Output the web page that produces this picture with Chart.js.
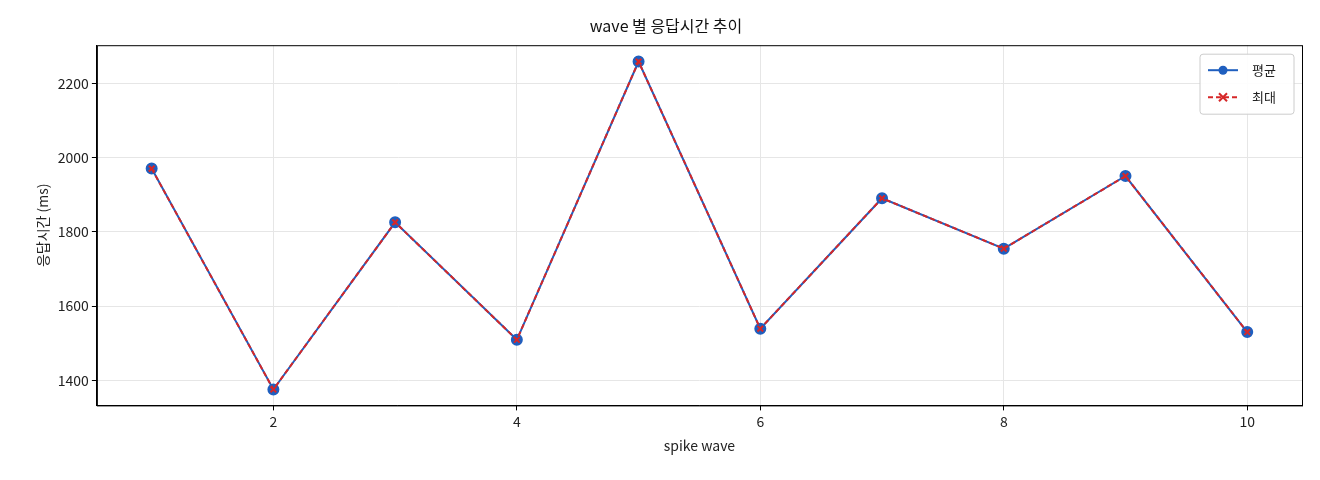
<!DOCTYPE html>
<html><head><meta charset="utf-8">
<script src="https://cdn.jsdelivr.net/npm/chart.js@4"></script>
<style>html,body{margin:0;background:#fff}#w{width:1320px;height:480px}</style>
</head><body><div id="w"><canvas id="c"></canvas></div>
<script>
const waves=[1,2,3,4,5,6,7,8,9,10];
const avgMs=[1971,1375,1826,1509,2260,1539,1891,1755,1951,1530];
const maxMs=[1971,1375,1826,1509,2260,1539,1891,1755,1951,1530];
const F="'Noto Sans CJK KR','DejaVu Sans',sans-serif";
Chart.defaults.font.family=F;Chart.defaults.color='#222';
const legendPlugin={id:'lg',afterDraw(ch){const c=ch.ctx,a=ch.chartArea;
c.save();c.strokeStyle='#000';c.lineWidth=1;c.strokeRect(a.left+0.5,a.top+0.5,a.right-a.left,a.bottom-a.top);
const x0=a.right-102,y0=a.top+9,w=94,h=60;
c.fillStyle='rgba(255,255,255,0.9)';c.strokeStyle='#ccc';c.beginPath();c.roundRect(x0,y0,w,h,3);c.fill();c.stroke();
const items=[['평균','#1f5fbf',[],'o'],['최대','#d62728',[5,3],'x']];
items.forEach((it,i)=>{const y=y0+16+i*27;c.strokeStyle=it[1];c.lineWidth=2;c.setLineDash(it[2]);c.beginPath();c.moveTo(x0+8,y);c.lineTo(x0+38,y);c.stroke();c.setLineDash([]);
const cx=x0+23;if(it[3]==='o'){c.fillStyle=it[1];c.beginPath();c.arc(cx,y,4.5,0,7);c.fill();}else{c.beginPath();c.moveTo(cx-4,y-4);c.lineTo(cx+4,y+4);c.moveTo(cx+4,y-4);c.lineTo(cx-4,y+4);c.stroke();}
c.fillStyle='#222';c.font='13px '+F;c.textBaseline='middle';c.fillText(it[0],x0+52,y);});c.restore();}};
new Chart(document.getElementById('c'),{type:'line',
data:{datasets:[
{label:'최대',data:waves.map((x,i)=>({x,y:maxMs[i]})),borderColor:'#d62728',backgroundColor:'#d62728',borderWidth:2,borderDash:[5,3],pointRadius:4,pointStyle:'crossRot',pointBorderWidth:2},
{label:'평균',data:waves.map((x,i)=>({x,y:avgMs[i]})),borderColor:'#1f5fbf',backgroundColor:'#1f5fbf',borderWidth:2,pointRadius:5,pointStyle:'circle'}]},
options:{responsive:true,maintainAspectRatio:false,animation:false,
layout:{padding:{left:30,right:18,top:0,bottom:22}},
plugins:{legend:{display:false},tooltip:{enabled:false},title:{display:true,text:'wave 별 응답시간 추이',font:{size:16,weight:'normal'},color:'#111',padding:{top:16,bottom:10}}},
scales:{x:{type:'linear',min:0.55,max:10.45,border:{color:'#000'},grid:{color:'#e6e6e6',tickColor:'#000',tickLength:5},ticks:{font:{size:14}},afterBuildTicks:s=>{s.ticks=[2,4,6,8,10].map(v=>({value:v}));},
title:{display:true,text:'spike wave',font:{size:14}}},
y:{min:1332,max:2304,border:{color:'#000'},grid:{color:'#e6e6e6',tickColor:'#000',tickLength:5},afterBuildTicks:s=>{s.ticks=[1400,1600,1800,2000,2200].map(v=>({value:v}));},ticks:{font:{size:14},callback:v=>String(v)},
title:{display:true,text:'응답시간 (ms)',font:{size:14}}}}}
,plugins:[legendPlugin]});
</script></body></html>
